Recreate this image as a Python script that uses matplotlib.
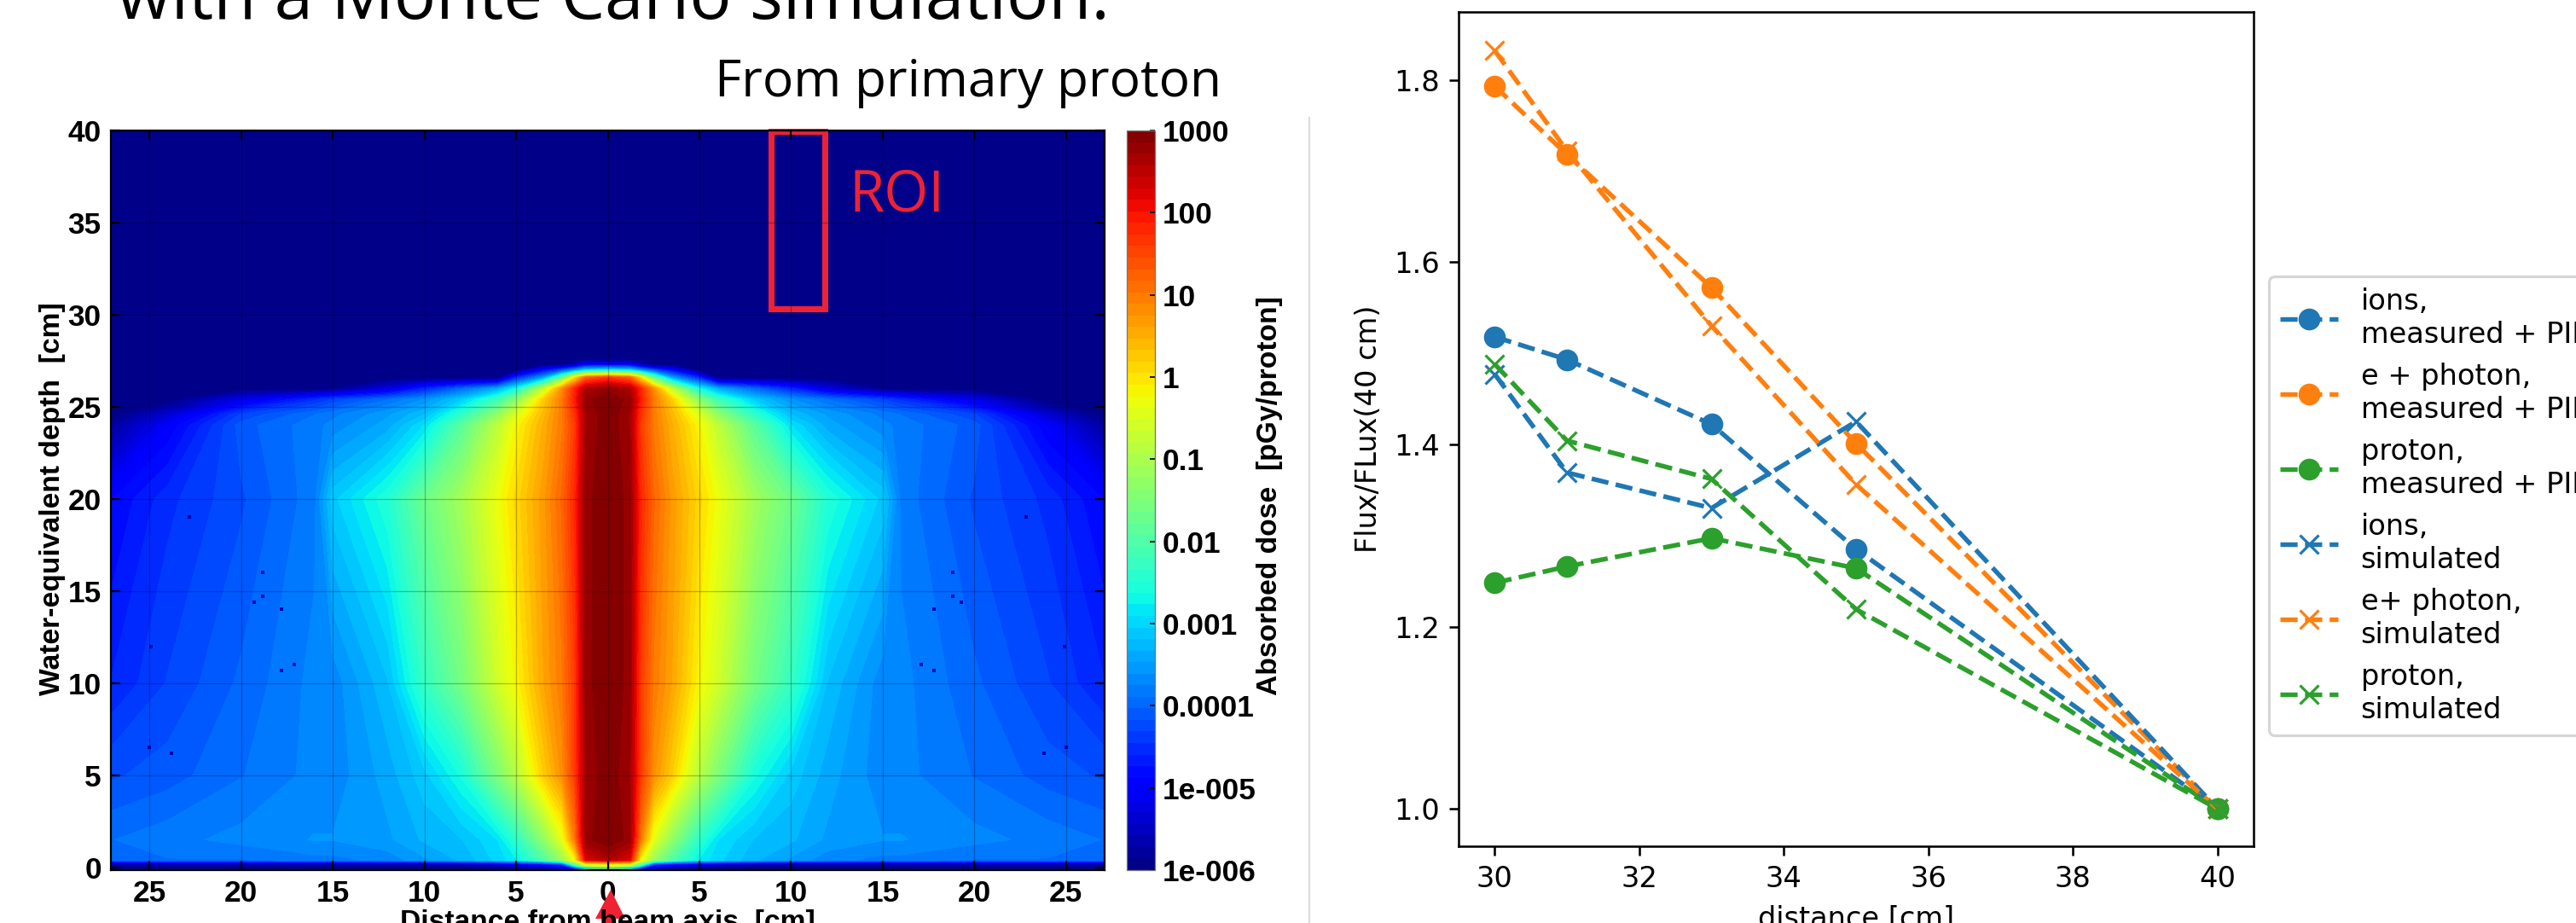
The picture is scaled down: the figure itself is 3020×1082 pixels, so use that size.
import numpy as np
import matplotlib
matplotlib.use('Agg')
import matplotlib.pyplot as plt
from matplotlib.lines import Line2D
from matplotlib.patches import Polygon, Rectangle

W = 3020
H = 1082
DPI = 230.4

# right panel: flux ratio vs distance
distance = [30, 31, 33, 35, 40]
ions_meas = [1.518, 1.493, 1.422, 1.285, 1.0]
ephoton_meas = [1.793, 1.718, 1.572, 1.401, 1.0]
proton_meas = [1.248, 1.266, 1.297, 1.264, 1.0]
ions_sim = [1.477, 1.369, 1.330, 1.425, 1.0]
ephoton_sim = [1.832, 1.722, 1.530, 1.356, 1.0]
proton_sim = [1.488, 1.404, 1.362, 1.219, 1.0]

# left panel: log10 dose at these spots (map is mirror symmetric)
dose_x = [0, 1.2, 1.8, 2.5, 3.5, 5, 6, 8, 10, 12, 15, 16, 20, 24, 27.2]
dose_depth = [-0.15, 0.15, 0.4, 1.5, 5, 10, 20, 24, 24.6, 25.4, 26, 26.6, 27, 27.3, 27.6, 40]
dose_log = [
    [-2.0, -3.5, -5.5, -5.5, -5.8, -6, -6, -6, -6, -6, -6, -6, -6, -6, -6],
    [-0.3, -0.5, -2.0, -4.5, -5.0, -5.2, -5.5, -5.7, -5.8, -5.8, -5.8, -5.8, -5.8, -5.8, -5.8],
    [2.6, 2.2, -0.2, -1.2, -2.0, -2.8, -3.0, -3.3, -3.5, -3.7, -3.8, -3.8, -3.9, -3.9, -4.0],
    [3.0, 2.8, 1.0, -0.4, -1.3, -2.4, -2.9, -3.2, -3.3, -3.5, -3.6, -3.6, -3.7, -3.8, -3.9],
    [3.0, 2.7, 1.6, 0.8, 0.2, -0.9, -1.5, -2.6, -3.1, -3.4, -3.7, -3.7, -3.9, -4.1, -4.2],
    [3.0, 2.8, 1.6, 1.0, 0.6, -0.2, -0.6, -1.6, -2.3, -3.2, -3.7, -3.7, -4.0, -4.3, -4.6],
    [3.0, 2.8, 1.8, 1.2, 0.7, 0.1, -0.3, -1.1, -1.7, -2.5, -3.1, -3.8, -4.2, -4.5, -4.9],
    [3.0, 2.7, 1.6, 1.0, 0.5, -0.2, -0.8, -1.9, -2.9, -3.4, -3.7, -3.8, -4.1, -5.0, -5.8],
    [3.0, 2.7, 1.7, 1.0, 0.4, -0.5, -1.3, -2.4, -3.2, -3.5, -3.8, -3.9, -4.3, -5.4, -6],
    [3.0, 2.8, 1.9, 1.0, 0.2, -1.4, -2.2, -3.1, -3.6, -3.9, -4.3, -4.5, -5.2, -6, -6],
    [2.8, 2.6, 1.8, 0.8, -0.8, -2.7, -3.4, -4.0, -4.6, -5.3, -5.9, -6, -6, -6, -6],
    [1.6, 1.2, 0.0, -1.8, -3.5, -4.6, -6, -6, -6, -6, -6, -6, -6, -6, -6],
    [-2.8, -3.0, -3.6, -4.2, -4.9, -6, -6, -6, -6, -6, -6, -6, -6, -6, -6],
    [-5.0, -5.0, -5.6, -6, -6, -6, -6, -6, -6, -6, -6, -6, -6, -6, -6],
    [-6, -6, -6, -6, -6, -6, -6, -6, -6, -6, -6, -6, -6, -6, -6],
    [-6, -6, -6, -6, -6, -6, -6, -6, -6, -6, -6, -6, -6, -6, -6],
]

# dark specks in the map
speck_x = [22.8, 18.8, 18.8, 19.3, 17.8, 24.9, 17.1, 17.8, 23.8, 25.0]
speck_depth = [19.0, 16.0, 14.7, 14.4, 14.0, 12.0, 11.0, 10.7, 6.2, 6.5]

dist_ticks = [-25, -20, -15, -10, -5, 0, 5, 10, 15, 20, 25]
depth_ticks = [0, 5, 10, 15, 20, 25, 30, 35, 40]
cbar_ticks = [-6, -5, -4, -3, -2, -1, 0, 1, 2, 3]
cbar_labels = ['1e-006', '1e-005', '0.0001', '0.001', '0.01', '0.1', '1', '10', '100', '1000']


def add_axes_px(fig, left, top, right, bottom):
    return fig.add_axes([left / W, 1 - bottom / H, (right - left) / W, (bottom - top) / H])


def fig_xy(x, y):
    return x / W, 1 - y / H


plt.rcParams['font.size'] = 10.5
plt.rcParams['lines.linewidth'] = 1.7

fig = plt.figure(figsize=(W / DPI, H / DPI), dpi=DPI)

# ---- dose map
ax = add_axes_px(fig, 130, 153, 1295, 1020)
half = np.array(dose_log)
z = np.hstack([half[:, :0:-1], half])
x = np.concatenate([-np.array(dose_x[:0:-1]), dose_x])
levels = np.linspace(-6, 3, 65)
cs = ax.contourf(x, dose_depth, np.clip(z, -6, 3), levels=levels, cmap='jet')
ax.scatter(speck_x + [-v for v in speck_x], speck_depth * 2, s=2.3, marker='s', color='#0000a8', linewidths=0)
ax.set_xlim(-27.1, 27.1)
ax.set_ylim(-0.15, 40)
ax.grid(color='black', alpha=0.25, lw=0.42)
ax.set_xticks(dist_ticks)
ax.set_xticklabels([str(abs(t)) for t in dist_ticks], family='Liberation Sans', weight='bold', fontsize=11)
ax.set_yticks(depth_ticks)
ax.set_yticklabels([str(t) for t in depth_ticks], family='Liberation Sans', weight='bold', fontsize=11)
ax.tick_params(direction='in', length=3.5, width=0.7, top=True, right=True, pad=3.5)
for s in ax.spines.values():
    s.set_linewidth(0.7)
ax.add_patch(Rectangle((8.9, 30.3), 2.95, 9.65, fill=False, edgecolor='#ee2233', lw=2.2, clip_on=False))

cax = add_axes_px(fig, 1321, 153, 1354, 1020)
cb = fig.colorbar(cs, cax=cax, ticks=cbar_ticks)
cb.set_ticklabels(cbar_labels, family='Liberation Sans', weight='bold', fontsize=11)
cax.tick_params(direction='in', length=2, width=0.55, pad=2.8)
cb.outline.set_linewidth(0.4)
cb.outline.set_edgecolor('#777777')

fig.text(62 / W, 1 - 585 / H, 'Water-equivalent depth  [cm]', rotation=90, ha='center', va='center',
         family='Liberation Sans', weight='bold', fontsize=10.5)
fig.text(1488 / W, 1 - 581 / H, 'Absorbed dose  [pGy/proton]', rotation=90, ha='center', va='center',
         family='Liberation Sans', weight='bold', fontsize=10.5)
fig.text(712 / W, 1 - 1090 / H, 'Distance from beam axis  [cm]', ha='center', va='baseline',
         family='Liberation Sans', weight='bold', fontsize=10.5)

# slide text
fig.text(137 / W, 1 - 22 / H, 'with a Monte Carlo simulation.', family='Open Sans', fontsize=25.6, va='baseline')
fig.text(1432 / W, 1 - 113 / H, 'From primary proton', family='Open Sans', fontsize=18.9, ha='right', va='baseline')
fig.text(996 / W, 1 - 248 / H, 'ROI', family='Open Sans', fontsize=20.9, color='#ee2233', va='baseline')

# red arrow under the beam axis
arrow = [(716, 1043), (733, 1077), (722, 1077), (722, 1082), (710, 1082), (710, 1077), (698, 1077)]
fig.add_artist(Polygon([fig_xy(px, py) for px, py in arrow], closed=True, transform=fig.transFigure,
                       facecolor='#ee2233', edgecolor='none'))

# divider
fig.add_artist(Line2D([1535 / W, 1535 / W], [0, 1 - 138 / H], color='#dddddd', lw=0.7))

# ---- flux ratio
ax2 = add_axes_px(fig, 1710, 14, 2642, 992)
ax2.plot(distance, ions_meas, '--o', color='C0', ms=7, label='ions,\nmeasured + PID')
ax2.plot(distance, ephoton_meas, '--o', color='C1', ms=7, label='e + photon,\nmeasured + PID')
ax2.plot(distance, proton_meas, '--o', color='C2', ms=7, label='proton,\nmeasured + PID')
ax2.plot(distance, ions_sim, '--x', color='C0', ms=7, label='ions,\nsimulated')
ax2.plot(distance, ephoton_sim, '--x', color='C1', ms=7, label='e+ photon,\nsimulated')
ax2.plot(distance, proton_sim, '--x', color='C2', ms=7, label='proton,\nsimulated')
ax2.set_xlim(29.5, 40.5)
ax2.set_ylim(0.959, 1.8745)
ax2.set_yticks([1.0, 1.2, 1.4, 1.6, 1.8])
ax2.set_xlabel('distance [cm]')
ax2.set_ylabel('Flux/FLux(40 cm)')
leg_x, leg_y = fig_xy(2660, 324)
ax2.legend(loc='upper left', bbox_to_anchor=(leg_x, leg_y), bbox_transform=fig.transFigure, borderaxespad=0)

fig.savefig('out.png', dpi=DPI)
